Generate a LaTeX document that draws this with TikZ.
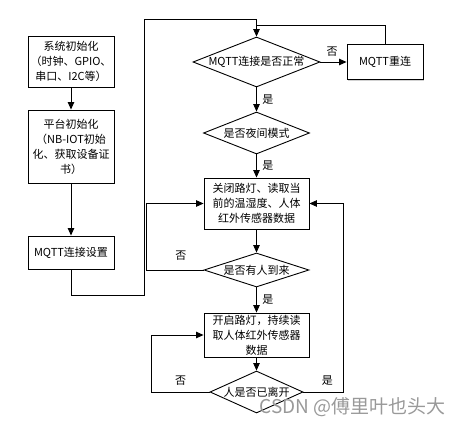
\documentclass[tikz,border=0pt]{standalone}
\usepackage{fontspec}
\setmainfont{Noto Sans CJK SC}
\usetikzlibrary{shapes.geometric,arrows.meta,shadows}
\newcommand{\dtext}[1]{\makebox[0pt]{#1}}

\begin{document}
\begin{tikzpicture}[x=1pt,y=-1pt,line width=0.9pt,
		>={Triangle[length=7.5pt,width=6.5pt]},
		every node/.style={font=\fontsize{11pt}{15pt}\selectfont},
		box/.style={draw, rectangle, align=center, inner sep=0pt, fill=white,
			drop shadow={shadow xshift=1.2pt, shadow yshift=-1.2pt, fill=black!35, opacity=0.5}},
		decision/.style={draw, diamond, inner sep=0pt, fill=white}]
		\useasboundingbox (0,0) rectangle (465,427);
		
		\node[box, minimum width=86pt, minimum height=51pt] (sysinit) at (71,61.5) {系统初始化\\（时钟、GPIO、\\串口、I2C等）};
		\node[box, minimum width=86pt, minimum height=73pt] (platinit) at (71,146.5) {平台初始化\\（NB-IOT初始\\化、获取设备证\\书）};
		\node[box, minimum width=86pt, minimum height=33pt] (mqttset) at (71,252.5) {MQTT连接设置};
		
		\node[decision, minimum width=127pt, minimum height=50pt] (mqttok) at (256.5,62) {\dtext{MQTT连接是否正常}};
		\node[box, minimum width=76pt, minimum height=35pt] (reconn) at (385,62) {MQTT重连};
		\node[decision, minimum width=106pt, minimum height=42pt] (night) at (256.5,133) {\dtext{是否夜间模式}};
		\node[box, minimum width=105pt, minimum height=51pt] (lampoff) at (256.5,203.5) {关闭路灯、读取当\\前的温湿度、人体\\红外传感器数据};
		\node[decision, minimum width=105pt, minimum height=34pt] (arrive) at (256.5,270) {\dtext{是否有人到来}};
		\node[box, minimum width=105pt, minimum height=44pt] (lampon) at (256.5,335) {开启路灯，持续读\\取人体红外传感器\\数据};
		\node[decision, minimum width=93pt, minimum height=42pt] (leave) at (256.5,392) {\dtext{人是否已离开}};
		
		\coordinate (topleft) at (144,19);
		\coordinate (rejoin) at (256.5,25);
		
		\draw[->] (sysinit) -- (platinit);
		\draw[->] (platinit) -- (mqttset);
		\draw[->] (mqttset.south) -- ++(0,26) -| (topleft) -| (mqttok.north);
		\draw[->] (mqttok.east) -- node[above=2pt, pos=0.45] {否} (reconn.west);
		\draw (reconn.north) |- (rejoin);
		\draw[->] (mqttok) -- node[right=2pt] {是} (night);
		\draw[->] (night) -- node[right=2pt] {是} (lampoff);
		\draw[->] (lampoff) -- (arrive);
		\draw[->] (arrive.west) -- node[above=6pt, pos=0.4] {否} ++(-57,0) |- (lampoff.west);
		\draw[->] (arrive) -- node[right=2pt] {是} (lampon);
		\draw[->] (lampon) -- (leave);
		\draw[->] (leave.west) -- node[above=3pt, pos=0.5] {否} ++(-58,0) |- (lampon.west);
		\draw[->] (leave.east) -- node[above=3pt, pos=0.6] {是} ++(40,0) |- (lampoff.east);
		
		\node[anchor=west, text=black!40, font=\fontsize{19pt}{19pt}\selectfont] (mark) at (256,407) {CSDN @傅里叶也头大};
	\end{tikzpicture}
\end{document}
